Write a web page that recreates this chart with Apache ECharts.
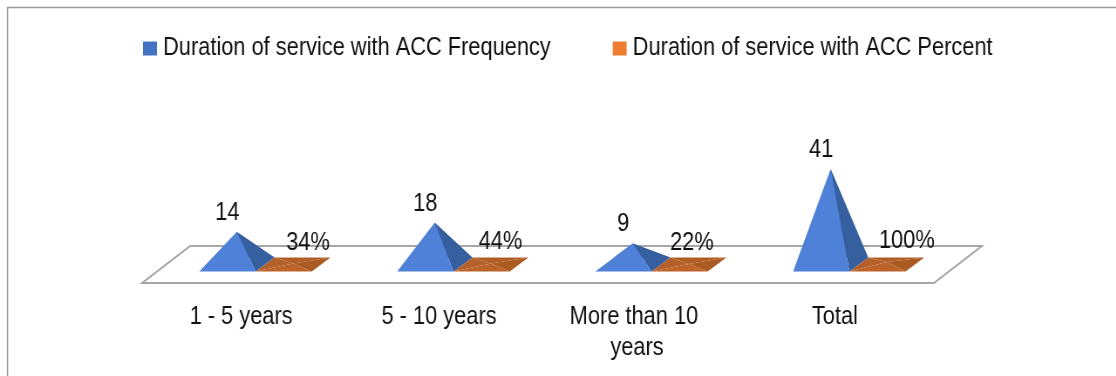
<!DOCTYPE html>
<html>
<head>
<meta charset="utf-8">
<style>
  html, body { margin: 0; padding: 0; background: #fff; overflow: hidden; }
  /* the original picture is a chart squeezed sideways, text included */
  #chart { width: 1280px; height: 376px; transform: scaleX(0.872); transform-origin: 0 0; }
</style>
<script src="https://cdn.jsdelivr.net/npm/echarts@6/dist/echarts.min.js"></script>
</head>
<body>
<div id="chart"></div>
<script>
const categories = ['1 - 5 years', '5 - 10 years', 'More than 10 years', 'Total'];
const frequency = [14, 18, 9, 41];
const percent = [0.34, 0.44, 0.22, 1];
const seriesNames = ['Duration of service with ACC Frequency', 'Duration of service with ACC Percent'];

// percent labels were placed by hand in the original, so each has its own nudge
const percentLabelDx = [17.2, 10.9, 3.4, 22.9];

const FONT = '"Liberation Sans", Arial, sans-serif';
const FONT_SIZE = 25;
const FLOOR_DX = 55;   // how far the back of the floor leans right
const FLOOR_DY = 37;   // and up
const BAR_SHIFT = 16.6; // pyramids sit a bit behind the front edge of the floor
const BAR_W = 64.4;
const BAR_DX = 21.4;
const BAR_DY = 14;

const blueFaces = { back: '#375f9f', left: '#4f81d9', front: '#4f81d9', right: '#365f9f' };
const orangeFaces = { back: '#b05e24', left: '#b5602a', front: '#bb6328', right: '#ab5a22' };

function poly(points, fill) {
  return { type: 'polygon', shape: { points }, style: { fill, stroke: null } };
}

function labelText(x, y, text) {
  return {
    type: 'text', z2: 10,
    style: { x, y, text, fill: '#111', font: FONT_SIZE + 'px ' + FONT, align: 'center', verticalAlign: 'middle' }
  };
}

// one pyramid; side: 0 = left of the band centre, 1 = right of it
function pyramid(api, side, faces, label, labelDx, labelDy) {
  const pt = api.coord([api.value(0), api.value(1)]);
  const base = api.coord([api.value(0), 0]);
  const x0 = pt[0] + BAR_SHIFT - BAR_W + side * BAR_W;
  const y0 = base[1];
  const fl = [x0, y0];
  const fr = [x0 + BAR_W, y0];
  const br = [x0 + BAR_W + BAR_DX, y0 - BAR_DY];
  const bl = [x0 + BAR_DX, y0 - BAR_DY];
  const apex = [x0 + BAR_W / 2 + BAR_DX / 2, pt[1] - BAR_DY / 2];
  return {
    type: 'group',
    children: [
      poly([bl, br, apex], faces.back),
      poly([fl, bl, apex], faces.left),
      poly([fr, br, apex], faces.right),
      poly([fl, fr, apex], faces.front),
      labelText(apex[0] + labelDx, apex[1] + labelDy, label)
    ]
  };
}

function renderFloor(params) {
  const cs = params.coordSys;
  const l = cs.x, r = cs.x + cs.width, b = cs.y + cs.height;
  return {
    type: 'polygon',
    shape: { points: [[l, b], [r, b], [r + FLOOR_DX, b - FLOOR_DY], [l + FLOOR_DX, b - FLOOR_DY]] },
    style: { fill: '#fff', stroke: '#a6a6a6', lineWidth: 2 }
  };
}

const chart = echarts.init(document.getElementById('chart'));
chart.setOption({
  animation: false,
  backgroundColor: '#fff',
  textStyle: { fontFamily: FONT },
  legend: {
    data: seriesNames,
    left: 164, top: 36,
    padding: 0,
    itemWidth: 16, itemHeight: 14, itemGap: 71,
    icon: 'rect',
    textStyle: { fontFamily: FONT, fontSize: FONT_SIZE, color: '#111', padding: [0, 0, 0, 2] }
  },
  graphic: [{
    type: 'polyline',
    shape: { points: [[8.6, 376], [8.6, 7.5], [1280, 7.5]] },
    style: { stroke: '#999', lineWidth: 1.5, fill: null }
  }],
  grid: { left: 163, right: 209, top: 167, bottom: 93 },
  xAxis: {
    type: 'category',
    data: categories,
    axisLine: { show: false },
    axisTick: { show: false },
    axisLabel: {
      interval: 0, margin: 19, color: '#111',
      fontFamily: FONT, fontSize: FONT_SIZE, lineHeight: 31,
      width: 172, overflow: 'break'
    }
  },
  yAxis: { type: 'value', min: -5, max: 45, show: false, splitLine: { show: false } },
  series: [
    {
      type: 'custom', name: 'floor', silent: true, z: 1,
      data: [[0, 0]],
      encode: { x: 0, y: 1 },
      renderItem: renderFloor
    },
    {
      type: 'custom', name: seriesNames[0], z: 3,
      itemStyle: { color: '#4472c4' },
      data: frequency.map((v, i) => [i, v]),
      encode: { x: 0, y: 1 },
      renderItem: (params, api) => pyramid(api, 0, blueFaces, String(api.value(1)), -10.9, -19)
    },
    {
      type: 'custom', name: seriesNames[1], z: 2,
      itemStyle: { color: '#ed7d31' },
      data: percent.map((v, i) => [i, v]),
      encode: { x: 0, y: 1 },
      renderItem: (params, api) => pyramid(api, 1, orangeFaces, Math.round(api.value(1) * 100) + '%',
        percentLabelDx[params.dataIndex], -21)
    }
  ]
});
</script>
</body>
</html>
